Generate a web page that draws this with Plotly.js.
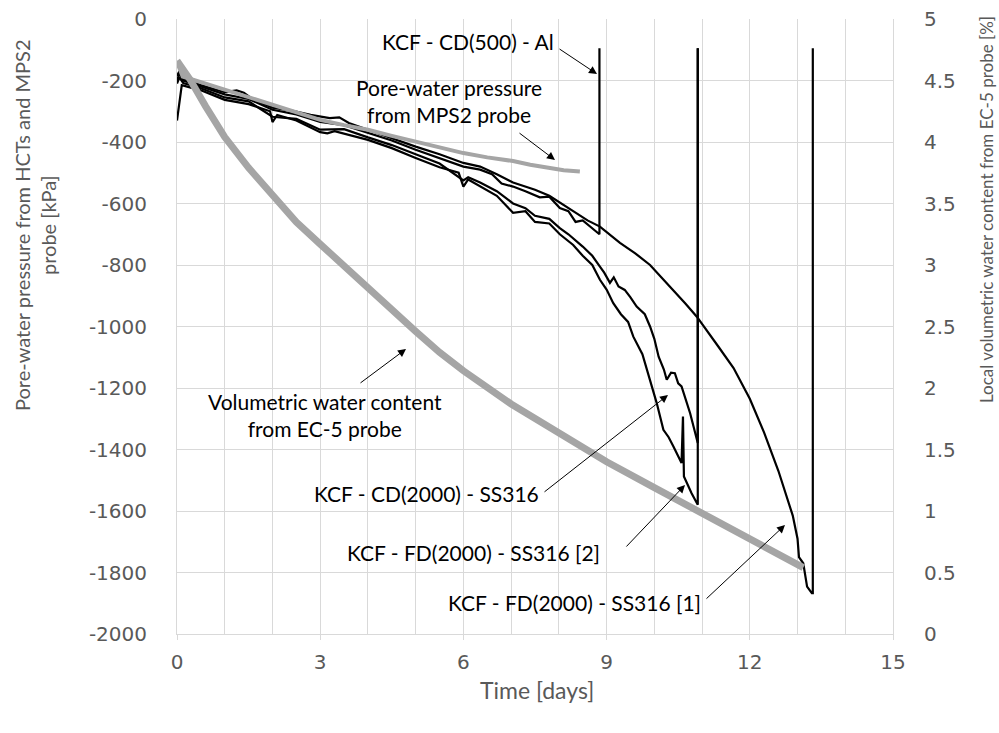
<!DOCTYPE html>
<html><head><meta charset="utf-8">
<script src="https://cdn.plot.ly/plotly-3.0.1.min.js"></script>
<style>html,body{margin:0;padding:0;background:#fff}#c{width:999px;height:733px}</style>
</head><body><div id="c"></div>
<script>
// ---- data ----
// KCF - FD(2000) - SS316 [1]
const fd1_t = [0,0.05,0.13,0.5,1.0,1.25,1.4,1.6,2.0,2.4,2.8,3.2,3.4,3.6,4.0,4.5,5.0,5.5,6.0,6.35,6.7,7.04,7.5,7.8,8.02,8.3,8.6,8.86,9.28,9.6,9.91,10.15,10.39,10.65,10.89,11.1,11.34,11.66,12.0,12.3,12.6,12.9,13.0,13.03,13.12,13.2,13.3,13.32,13.32];
const fd1_p = [-185,-170,-195,-215,-238,-232,-240,-262,-288,-298,-312,-322,-320,-338,-360,-388,-415,-440,-468,-480,-505,-532,-555,-575,-598,-625,-655,-675,-728,-762,-800,-840,-881,-925,-968,-1015,-1065,-1135,-1235,-1345,-1470,-1615,-1690,-1750,-1770,-1846,-1867,-1867,-95];
// KCF - CD(500) - Al
const cd500_t = [0,0.05,0.13,0.5,1.0,1.5,2.0,2.5,3.0,3.5,4.0,4.5,5.0,5.5,6.0,6.35,6.6,6.8,7.04,7.3,7.6,7.8,8.02,8.2,8.35,8.5,8.7,8.85,8.85];
const cd500_p = [-200,-178,-200,-220,-245,-260,-295,-310,-335,-345,-370,-395,-425,-452,-480,-490,-505,-535,-545,-560,-580,-578,-615,-625,-660,-655,-680,-700,-95];
// KCF - FD(2000) - SS316 [2]
const fd2_t = [0,0.05,0.1,0.5,1.0,1.5,1.95,2.0,2.1,2.5,3.0,3.15,3.3,4.0,4.5,5.0,5.5,5.9,6.0,6.1,6.35,6.7,7.04,7.3,7.5,7.8,8.02,8.3,8.5,8.7,8.86,9.0,9.14,9.3,9.45,9.56,9.75,9.91,10.05,10.19,10.3,10.4,10.5,10.57,10.6,10.62,10.78,10.91,10.91];
const fd2_p = [-330,-280,-215,-232,-263,-277,-300,-335,-312,-330,-368,-372,-365,-393,-420,-452,-482,-500,-545,-522,-545,-575,-630,-625,-660,-665,-700,-735,-770,-800,-848,-880,-924,-960,-985,-1033,-1090,-1173,-1249,-1336,-1360,-1390,-1420,-1444,-1293,-1488,-1542,-1580,-95];
// KCF - CD(2000) - SS316
const cd2000_t = [0,0.05,0.13,0.5,1.0,1.5,2.0,2.5,3.0,3.5,4.0,4.5,5.0,5.5,6.0,6.1,6.35,6.7,7.04,7.3,7.5,7.8,8.02,8.2,8.5,8.7,8.86,8.95,9.07,9.15,9.25,9.38,9.5,9.63,9.8,9.91,10.0,10.09,10.2,10.26,10.35,10.43,10.5,10.57,10.75,10.91,10.91];
const cd2000_p = [-210,-190,-208,-225,-255,-268,-318,-325,-360,-358,-385,-410,-440,-470,-525,-515,-532,-560,-600,-615,-640,-650,-680,-700,-740,-770,-805,-825,-858,-840,-870,-881,-905,-935,-960,-1000,-1040,-1098,-1140,-1173,-1150,-1152,-1185,-1195,-1282,-1379,-95];
// Pore-water pressure from MPS2 probe
const mps2_t = [0,0.12,0.5,1,1.5,2,2.5,3,3.5,4,4.5,5,5.5,6,6.5,7.04,7.4,7.74,8.1,8.44];
const mps2_p = [-140,-187,-205,-230,-255,-279,-305,-328,-345,-360,-380,-398,-418,-436,-450,-462,-474,-484,-492,-496];
// Volumetric water content from EC-5 probe [%]
const vwc_t = [0,0.27,0.6,1,1.5,2,2.5,3,3.5,4,4.5,5,5.5,6,7,8,9,10,11,12,13,13.12];
const vwc_v = [4.66,4.51,4.29,4.04,3.79,3.56,3.35,3.17,2.99,2.82,2.64,2.46,2.29,2.14,1.87,1.63,1.40,1.19,0.98,0.77,0.56,0.54];

const xTicks = [0,3,6,9,12,15];
const yTicks = [0,-200,-400,-600,-800,-1000,-1200,-1400,-1600,-1800,-2000];
const y2Ticks = [0,0.5,1,1.5,2,2.5,3,3.5,4,4.5,5];
const y2Labels = ['0','0.5','1','1.5','2','2.5','3','3.5','4','4.5','5'];

// ---- layout geometry (pixels) ----
const W = 999, H = 733;
const M = {l:177, r:106, t:19, b:99};
const PW = W - M.l - M.r, PH = H - M.t - M.b;
const px = X => (X - M.l) / PW;          // pixel -> paper x
const py = Y => (H - M.b - Y) / PH;      // pixel -> paper y

const GRAY = '#a5a5a5';
const TXT = '#595959';
const LBL = 'Lato, "Open Sans", sans-serif';

function blk(t, p, name){
  return {x:t, y:p, name:name, type:'scatter', mode:'lines',
          line:{color:'#000', width:2.2}, hoverinfo:'skip', showlegend:false};
}
const traces = [
  blk(fd1_t, fd1_p, 'KCF - FD(2000) - SS316 [1]'),
  blk(cd500_t, cd500_p, 'KCF - CD(500) - Al'),
  blk(fd2_t, fd2_p, 'KCF - FD(2000) - SS316 [2]'),
  blk(cd2000_t, cd2000_p, 'KCF - CD(2000) - SS316'),
  {x:mps2_t, y:mps2_p, type:'scatter', mode:'lines', line:{color:GRAY, width:4},
   showlegend:false, name:'MPS2'},
  {x:vwc_t, y:vwc_v, yaxis:'y2', type:'scatter', mode:'lines', line:{color:GRAY, width:7},
   showlegend:false, name:'EC-5'}
];

function label(text, X, Y, size){
  return {xref:'paper', yref:'paper', x:px(X), y:py(Y), text:text, showarrow:false,
          xanchor:'center', yanchor:'middle', font:{family:LBL, size:size||21, color:'#000'}};
}
function arrow(tipX, tipY, tailX, tailY){
  return {xref:'paper', yref:'paper', x:px(tipX), y:py(tipY), ax:tailX - tipX, ay:tailY - tipY,
          text:'', showarrow:true, arrowhead:2, arrowsize:1.6, arrowwidth:1, arrowcolor:'#000', standoff:0};
}
const annotations = [
  label('KCF - CD(500) - Al', 468, 42),
  arrow(597, 74, 558, 48),
  label('Pore-water pressure<br>from MPS2 probe', 449, 101),
  arrow(555, 160, 518, 132),
  label('Volumetric water content<br>from EC-5 probe', 325, 415),
  arrow(406, 349, 359, 384),
  label('KCF - CD(2000) - SS316', 426, 493),
  arrow(668, 395, 543, 493),
  label('KCF - FD(2000) - SS316 [2]', 473, 552),
  arrow(685, 485, 625, 548),
  label('KCF - FD(2000) - SS316 [1]', 574, 602),
  arrow(785, 525, 705, 600),
  // axis titles
  {xref:'paper', yref:'paper', x:px(22), y:py(225), text:'Pore-water pressure from HCTs and MPS2', textangle:-90,
   showarrow:false, xanchor:'center', yanchor:'middle', font:{family:LBL, size:20, color:TXT}},
  {xref:'paper', yref:'paper', x:px(48), y:py(225), text:'probe [kPa]', textangle:-90,
   showarrow:false, xanchor:'center', yanchor:'middle', font:{family:LBL, size:20, color:TXT}},
  {xref:'paper', yref:'paper', x:px(986), y:py(210), text:'Local volumetric water content from EC-5 probe [%]', textangle:-90,
   showarrow:false, xanchor:'center', yanchor:'middle', font:{family:LBL, size:17, color:TXT}},
  {xref:'paper', yref:'paper', x:px(537), y:py(690), text:'Time [days]',
   showarrow:false, xanchor:'center', yanchor:'middle', font:{family:LBL, size:23, color:TXT}}
];

const tickFont = {family:'"DejaVu Sans", Verdana, sans-serif', size:20, color:TXT};
const layout = {
  width:W, height:H, margin:M, paper_bgcolor:'#fff', plot_bgcolor:'#fff', showlegend:false,
  xaxis:{range:[0,15], tickvals:xTicks, ticktext:xTicks.map(String), showgrid:true, gridcolor:'#d9d9d9', gridwidth:1,
         minor:{dtick:1, showgrid:true, gridcolor:'#d9d9d9', gridwidth:1},
         ticks:'outside', ticklen:5, tickcolor:'#d9d9d9', showline:true, linecolor:'#d9d9d9', linewidth:1,
         zeroline:false, tickfont:tickFont, ticklabelstandoff:5, mirror:false},
  yaxis:{range:[-2000,0], tickvals:yTicks, ticktext:yTicks.map(String), showgrid:true, gridcolor:'#d9d9d9', gridwidth:1,
         showline:true, linecolor:'#d9d9d9', linewidth:1, zeroline:false, ticks:'', tickfont:tickFont,
         ticklabelstandoff:25},
  yaxis2:{range:[0,5], overlaying:'y', side:'right', tickvals:y2Ticks, ticktext:y2Labels, showgrid:false,
          showline:true, linecolor:'#d9d9d9', linewidth:1, zeroline:false, ticks:'', tickfont:tickFont,
          ticklabelstandoff:26},
  annotations:annotations
};
Plotly.newPlot('c', traces, layout, {staticPlot:true, displayModeBar:false});
</script></body></html>
